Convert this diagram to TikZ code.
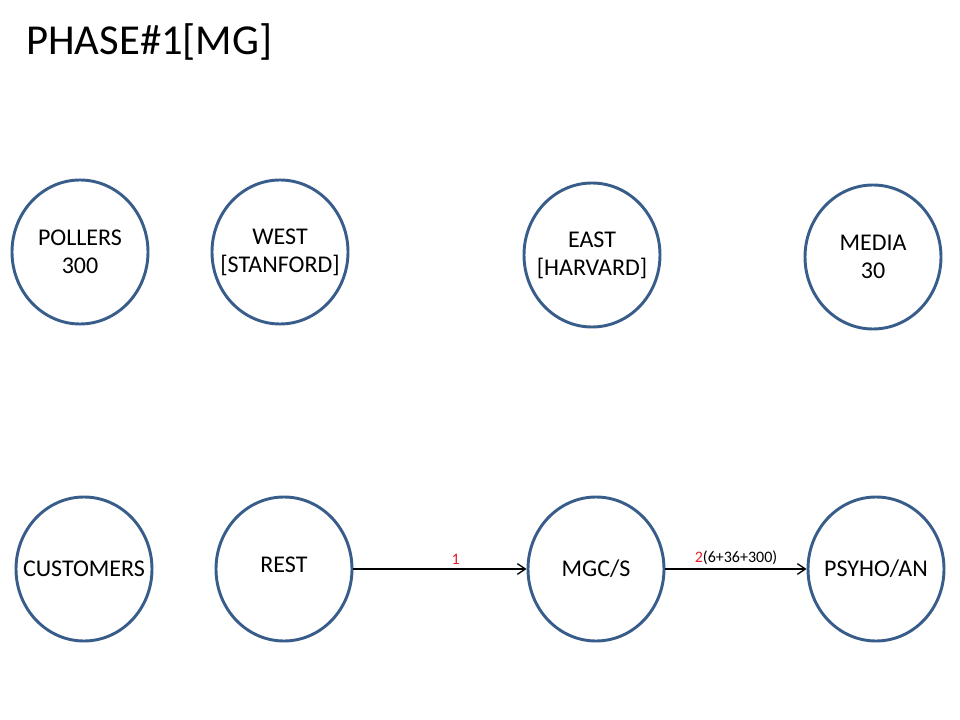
\documentclass[tikz,border=0pt]{standalone}
\usepackage{fontspec}
\setmainfont{Carlito}
\usetikzlibrary{shapes.geometric}
\usetikzlibrary{arrows.meta}
\definecolor{ringblue}{HTML}{385D8A}
\definecolor{labelred}{HTML}{E0202A}
\tikzstyle{party} = [ellipse, draw=ringblue, line width=2.2pt,
    minimum width=102pt, minimum height=108pt, inner sep=0pt]
\tikzstyle{ringtext} = [align=center, inner sep=0pt, font=\fontsize{18}{21}\selectfont]
\tikzstyle{title} = [anchor=west, inner sep=0pt, font=\fontsize{32}{38}\selectfont]
\tikzstyle{line} = [draw, line width=1pt, -{Straight Barb[length=6pt,width=8pt]}]
\tikzstyle{flow} = [above, inner sep=3pt, font=\fontsize{12}{14}\selectfont]

\begin{document}
\begin{tikzpicture}[x=0.75pt, y=-0.75pt]
    \useasboundingbox (0,0) rectangle (960,720);
    % Title
    \node [title] (phase) at (26,42) {PHASE\#1[MG]};
    % Place nodes
    \node [party, label={[ringtext]center:POLLERS\\300}] (pollers) at (80,252) {};
    \node [party, label={[ringtext]center:WEST\\{[STANFORD]}}] (west) at (280,252) {};
    \node [party, label={[ringtext]center:EAST\\{[HARVARD]}}] (east) at (592,255) {};
    \node [party, label={[ringtext]center:MEDIA\\30}] (media) at (873,257) {};
    \node [party, label={[ringtext]center:CUSTOMERS}] (customers) at (84,569) {};
    \node [party, label={[ringtext, yshift=3pt]center:REST}] (rest) at (284,569) {};
    \node [party, label={[ringtext]center:MGC/S}] (mgcs) at (596,569) {};
    \node [party, label={[ringtext]center:PSYHO/AN}] (psyho) at (876,569) {};
    % Draw edges
    \path [line] (rest) -- node[flow, pos=0.59] {\textcolor{labelred}{1}} (mgcs);
    \path [line] (mgcs) -- node[flow] {\textcolor{labelred}{2}(6+36+300)} (psyho);

\end{tikzpicture}
\end{document}
